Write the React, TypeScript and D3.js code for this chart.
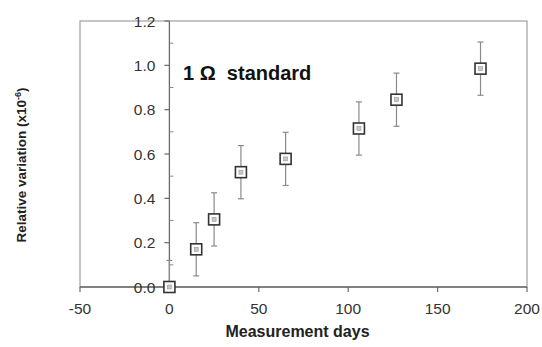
import * as d3 from 'd3'

const days = [0, 15, 25, 40, 65, 106, 127, 174]
const variation = [0.0, 0.17, 0.305, 0.518, 0.578, 0.715, 0.845, 0.985]
const errors = [0.12, 0.12, 0.12, 0.12, 0.12, 0.12, 0.12, 0.12]
const xTicks = [-50, 0, 50, 100, 150, 200]
const yTicks = [0, 0.2, 0.4, 0.6, 0.8, 1.0, 1.2]
const yMinor = [0.1, 0.3, 0.5, 0.7, 0.9, 1.1]

const W = 542
const H = 347
const margin = { top: 21, right: 15, bottom: 60, left: 80 }
const font = '"Liberation Sans", Arial, sans-serif'

export default function App() {
  const x = d3.scaleLinear().domain([-50, 200]).range([margin.left, W - margin.right])
  const y = d3.scaleLinear().domain([0, 1.2]).range([H - margin.bottom, margin.top])
  const x0 = x(0)
  const y0 = y(0)
  const points = days.map((d, i) => ({ d, v: variation[i], e: errors[i] }))

  return (
    <svg width={W} height={H} style={{ position: 'absolute', left: 0, top: 0, background: '#fff' }}
      fontFamily={font}>
      {/* plot frame */}
      <rect x={x(-50)} y={y(1.2)} width={x(200) - x(-50)} height={y(0) - y(1.2)}
        fill="none" stroke="#a0a0a0" strokeWidth={1.2} />

      {/* x axis along y=0 */}
      <line x1={x(-50)} x2={x(200)} y1={y0} y2={y0} stroke="#6a6a6a" strokeWidth={1.3} />
      {xTicks.map(t => (
        <g key={'xt' + t}>
          <line x1={x(t)} x2={x(t)} y1={y0} y2={y0 + 5} stroke="#6a6a6a" strokeWidth={1.2} />
          <text x={x(t)} y={y0 + 27} textAnchor="middle" fontSize={15.5} fill="#333">{t}</text>
        </g>
      ))}

      {/* y axis along x=0 */}
      <line x1={x0} x2={x0} y1={y(1.2)} y2={y0} stroke="#6a6a6a" strokeWidth={1.3} />
      {yTicks.map(t => (
        <g key={'yt' + t}>
          <line x1={x0 - 5} x2={x0} y1={y(t)} y2={y(t)} stroke="#6a6a6a" strokeWidth={1.2} />
          <text x={x0 - 14} y={y(t) + 5.5} textAnchor="end" fontSize={15.5} fill="#333">
            {t.toFixed(1)}
          </text>
        </g>
      ))}
      {yMinor.map(t => (
        <line key={'ym' + t} x1={x0} x2={x0 + 4} y1={y(t)} y2={y(t)} stroke="#8a8a8a" strokeWidth={1} />
      ))}

      {/* error bars */}
      {points.map(p => (
        <g key={'e' + p.d} stroke="#8a8a8a" strokeWidth={1.2}>
          <line x1={x(p.d)} x2={x(p.d)} y1={y(p.v + p.e)} y2={Math.min(y(p.v - p.e), y0)} />
          <line x1={x(p.d) - 3} x2={x(p.d) + 3} y1={y(p.v + p.e)} y2={y(p.v + p.e)} />
          {p.v - p.e >= 0 && (
            <line x1={x(p.d) - 3} x2={x(p.d) + 3} y1={y(p.v - p.e)} y2={y(p.v - p.e)} />
          )}
        </g>
      ))}

      {/* markers */}
      {points.map(p => (
        <g key={'m' + p.d}>
          <rect x={x(p.d) - 5.5} y={y(p.v) - 5.5} width={11} height={11}
            fill="#fff" stroke="#333" strokeWidth={1.6} />
          <rect x={x(p.d) - 2} y={y(p.v) - 2} width={4} height={4}
            fill="#c8c8c8" stroke="#999" strokeWidth={0.6} />
        </g>
      ))}

      <text x={183} y={79.5} fontSize={20} fontWeight="bold" fill="#111">
        1 Ω{'\u00a0\u00a0'}standard
      </text>

      <text x={297.5} y={336.5} textAnchor="middle" fontSize={16}
        fontWeight="bold" fill="#222">Measurement days</text>

      <text transform={`translate(25.5,165) rotate(-90)`} textAnchor="middle" fontSize={13.5}
        fontWeight="bold" fill="#222">
        Relative variation (x10<tspan dy={-5} fontSize={9}>-6</tspan><tspan dy={5}>)</tspan>
      </text>
    </svg>
  )
}
